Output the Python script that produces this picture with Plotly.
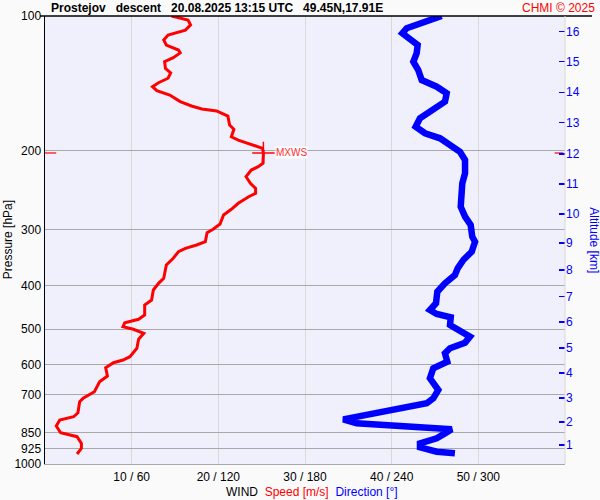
import math
import plotly.graph_objects as go

# Wind speed profile (red)
speed_p = [100, 102.1, 104.7, 107.5, 110.3, 113.1, 116.1, 119.1, 120.9, 123.9, 126.5, 130.9, 133.9, 137.7,
           140.9, 143.8, 146.8, 150.1, 155.3, 158.8, 161.3, 162.9, 167.2, 175.1, 179.0, 186.0, 189.2, 194.1,
           197.4, 202.2, 213.2, 217.0, 220.7, 228.4, 236.3, 242.5, 248.8, 253.2, 261.9, 270.1, 278.2, 291.3,
           299.3, 304.5, 319.0, 324.5, 330.0, 335.8, 347.4, 359.6, 385.1, 395.2, 408.9, 430.5, 441.7, 465.0,
           475.3, 483.7, 493.7, 500.4, 510.9, 526.8, 551.7, 576.1, 586.1, 594.2, 609.5, 636.2, 655.1, 689.7,
           713.5, 726.1, 768.4, 784.3, 797.7, 822.7, 851.4, 869.0, 899.2, 922.6, 950.0]
speed_v = [14.6, 16.5, 16.8, 16.2, 14.2, 13.7, 14.0, 15.4, 15.6, 14.8, 13.8, 13.9, 14.5, 14.2,
           13.1, 12.4, 12.9, 14.4, 15.6, 16.9, 18.1, 19.8, 21.1, 21.3, 21.8, 21.5, 22.3, 24.0,
           25.1, 25.2, 25.15, 24.6, 23.8, 23.2, 23.7, 24.3, 24.3, 23.5, 22.3, 21.5, 20.6, 20.2,
           19.4, 18.7, 18.5, 17.5, 16.2, 15.4, 14.8, 14.0, 13.7, 13.1, 12.5, 12.3, 11.5, 11.5,
           10.8, 9.2, 9.0, 10.2, 11.4, 10.8, 10.6, 9.8, 9.0, 7.9, 7.0, 7.2, 6.3, 5.7,
           4.4, 4.0, 3.8, 3.3, 1.7, 1.3, 1.8, 3.7, 4.2, 4.2, 3.7]

# Wind direction profile (blue)
dir_p = [100, 103.0, 106.5, 109.3, 112.1, 116.1, 121.1, 126.5, 132.0, 139.0, 143.8, 148.8, 155.3, 162.1,
         169.2, 176.6, 182.7, 187.5, 194.1, 200.9, 209.6, 224.4, 236.3, 248.8, 266.5, 280.5, 292.8, 310.9,
         319.0, 335.8, 350.5, 365.8, 378.6, 395.2, 412.5, 437.8, 453.2, 462.6, 470.5, 489.5, 504.1, 519.7,
         536.0, 551.7, 566.1, 591.2, 611.5, 643.8, 683.7, 713.5, 732.0, 757.8, 781.5, 794.8, 811.4, 821.4,
         825.6, 836.7, 854.2, 876.3, 899.2, 917.7, 938.6, 946.4]
dir_d = [274.6, 261.9, 250.4, 247.4, 251.5, 258.0, 257.3, 255.0, 258.4, 260.8, 271.2, 278.1, 276.9, 268.8,
         259.6, 256.6, 263.1, 273.5, 280.4, 287.3, 290.8, 290.8, 288.9, 288.0, 287.8, 290.8, 294.7, 295.8,
         297.7, 295.4, 289.6, 285.7, 283.8, 276.9, 271.6, 270.7, 266.5, 271.2, 280.9, 280.4, 287.3, 294.2,
         290.8, 280.4, 276.9, 278.5, 268.8, 266.5, 272.3, 268.8, 264.3, 238.8, 213.4, 206.5, 215.8, 243.5,
         266.5, 281.6, 276.9, 271.2, 259.6, 259.6, 271.2, 283.8]

# Axes
p_ticks = [100, 200, 300, 400, 500, 600, 700, 850, 925, 1000]
speed_ticks = [10, 20, 30, 40, 50]
speed_ticktext = ["10 / 60", "20 / 120", "30 / 180", "40 / 240", "50 / 300"]
alt_km = [1, 2, 3, 4, 5, 6, 7, 8, 9, 10, 11, 12, 13, 14, 15, 16]
alt_p = [907, 805, 712, 626, 551, 482, 423, 369, 321, 277, 237, 203, 173, 148, 126.5, 108.4]

imax = max(range(len(speed_v)), key=lambda i: speed_v[i])
mx_v, mx_p = speed_v[imax], speed_p[imax]

FONT = "Liberation Sans, Arial, sans-serif"

fig = go.Figure()
fig.add_trace(go.Scatter(x=dir_d, y=dir_p, xaxis="x2", yaxis="y", mode="lines",
                         line=dict(color="#0000ff", width=6.5), hoverinfo="skip"))
fig.add_trace(go.Scatter(x=speed_v, y=speed_p, xaxis="x", yaxis="y", mode="lines",
                         line=dict(color="#ff0000", width=3), hoverinfo="skip"))
# MXWS marker
fig.add_trace(go.Scatter(x=[mx_v], y=[mx_p], mode="markers", cliponaxis=False,
                         marker=dict(symbol="cross-thin", size=16, line=dict(color="#ff0000", width=1.5)),
                         hoverinfo="skip"))
# red ticks at MXWS level on both sides
fig.add_trace(go.Scatter(x=[-0.25, 1.3], y=[mx_p, mx_p], mode="lines", cliponaxis=False,
                         line=dict(color="#ff0000", width=1.2), hoverinfo="skip"))
fig.add_trace(go.Scatter(x=[58.8, 59.8], y=[mx_p, mx_p], mode="lines", cliponaxis=False,
                         line=dict(color="#ff0000", width=1.2), hoverinfo="skip"))
# dummy trace for right axis
fig.add_trace(go.Scatter(x=[None], y=[None], yaxis="y2", showlegend=False, hoverinfo="skip"))

fig.update_layout(
    width=600, height=500,
    margin=dict(l=45, r=35, t=16, b=36, autoexpand=False),
    paper_bgcolor="#fafafa", plot_bgcolor="#f0f0fc",
    showlegend=False,
    font=dict(family=FONT, size=12, color="black"),
    xaxis=dict(range=[0, 60], tickvals=speed_ticks, ticktext=speed_ticktext, automargin=False,
               showgrid=True, gridcolor="#d8d8d8", gridwidth=1, zeroline=False,
               showline=True, linecolor="#a8a8a8", linewidth=1, ticks="",
               tickfont=dict(size=12, color="black", family=FONT), ticklabelstandoff=2),
    xaxis2=dict(range=[0, 360], overlaying="x", visible=False, automargin=False),
    yaxis=dict(type="log", range=[3, 2], tickvals=p_ticks, ticktext=[str(t) for t in p_ticks],
               automargin=False,
               showgrid=True, gridcolor="#a8a8a8", gridwidth=1, zeroline=False,
               showline=True, linecolor="black", linewidth=1.5, ticks="",
               tickfont=dict(size=12, color="black", family=FONT)),
    yaxis2=dict(type="log", range=[3, 2], overlaying="y", side="right", anchor="x", automargin=False,
                tickvals=alt_p, ticktext=[str(k) for k in alt_km], showgrid=False, zeroline=False,
                ticks="inside", ticklen=6, tickcolor="#0000ff", tickwidth=1.5,
                tickfont=dict(size=12, color="#0000ff", family=FONT), showline=False),
)

fig.update_layout(shapes=[
    dict(type="line", xref="paper", yref="paper", x0=-0.0096, x1=1.052, y0=1, y1=1,
         line=dict(color="black", width=1.5)),
    dict(type="line", xref="paper", yref="paper", x0=1, x1=1, y0=0, y1=1,
         line=dict(color="#d8d8d8", width=1)),
])

fig.update_layout(annotations=[
    dict(text="<b>Prostejov\u00a0\u00a0\u00a0descent\u00a0\u00a0\u00a020.08.2025 13:15 UTC\u00a0\u00a0\u00a049.45N,17.91E</b>",
         xref="paper", yref="paper", x=0.008, y=1.0, xanchor="left", yanchor="bottom", yshift=-1,
         showarrow=False, font=dict(size=12, color="black", family=FONT)),
    dict(text="CHMI © 2025", xref="paper", yref="paper", x=1.061, y=1.0, xanchor="right", yanchor="bottom",
         yshift=-1, showarrow=False, font=dict(size=12, color="#ff0000", family=FONT)),
    dict(text="Pressure [hPa]", xref="paper", yref="paper", x=-0.088, y=0.5, xanchor="left", yanchor="middle",
         textangle=-90, showarrow=False, font=dict(size=12, color="black", family=FONT)),
    dict(text="Altitude [km]", xref="paper", yref="paper", x=1.038, y=0.5, xanchor="left", yanchor="middle",
         textangle=90, showarrow=False, font=dict(size=12, color="#0000ff", family=FONT)),
    dict(text="WIND\u00a0\u00a0<span style='color:#ff0000'>Speed [m/s]</span>\u00a0\u00a0<span style='color:#0000ff'>Direction [°]</span>",
         xref="paper", yref="paper", x=0.345, y=-0.042, xanchor="left", yanchor="top",
         showarrow=False, font=dict(size=12, color="black", family=FONT)),
    dict(text="MXWS", xref="x", yref="y", x=mx_v + 1.3, y=math.log10(mx_p), xanchor="left", yanchor="middle",
         showarrow=False, bgcolor="rgba(255,255,255,0.85)", borderpad=0,
         font=dict(size=10, color="#ff3030", family=FONT)),
])

fig.write_html("out.html", config={"displayModeBar": False, "staticPlot": True},
               post_script="document.body.style.margin='0';document.body.style.background='#fafafa';")
